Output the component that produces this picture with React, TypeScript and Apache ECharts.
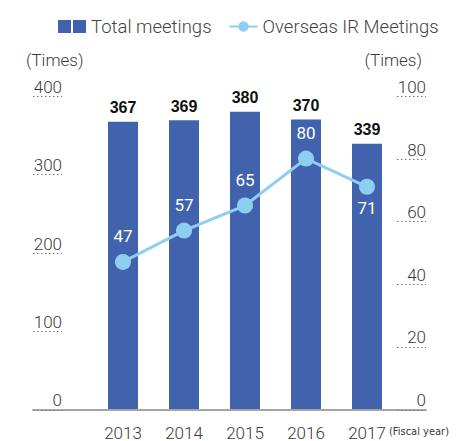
import React, { useEffect, useRef } from "react";
import * as echarts from "echarts";

const years = ["2013", "2014", "2015", "2016", "2017"];
const totalMeetings = [367, 369, 380, 370, 339];
const overseasMeetings = [47, 57, 65, 80, 71];
const leftTicks = { min: 0, max: 400, interval: 100 };
const rightTicks = { min: 0, max: 100, interval: 20 };

const BAR = "#4163ae";
const LINE = "#8ecef0";
const TXT = "#3a3a3a";
const FONT = "Roboto, 'Noto Sans', sans-serif";
const LIGHT = 300;

export default function App() {
  const ref = useRef<HTMLDivElement>(null);
  useEffect(() => {
    if (!ref.current) return;
    const chart = echarts.init(ref.current, undefined, { renderer: "svg" });
    const top = 96;
    const bottom = 31;
    const dotted = {
      show: true,
      lineStyle: { type: [1.5, 2.5] as any, color: "#777", width: 1 },
    };
    chart.setOption({
      animation: false,
      textStyle: { fontFamily: FONT },
      legend: {
        left: 53,
        top: 12,
        itemGap: 17,
        itemHeight: 13,
        textStyle: { fontSize: 18.5, color: "#444", fontFamily: FONT, fontWeight: LIGHT },
        data: [
          { name: "Total meetings", icon: "path://M0,0H13V13H0Z M15,0H28V13H15Z", itemStyle: { color: BAR } },
          { name: "Overseas IR Meetings" },
        ],
        itemWidth: 28,
      },
      title: [
        { text: "(Times)", left: 21, top: 46, textStyle: { fontSize: 17, fontWeight: LIGHT, color: TXT, fontFamily: FONT } },
        { text: "(Times)", right: 34, top: 46, textStyle: { fontSize: 17, fontWeight: LIGHT, color: TXT, fontFamily: FONT } },
      ],
      grid: [
        { left: 92.5, right: 63.5, top, bottom },
        { left: 33, right: 35, top, bottom },
        { left: 33, width: 29, top, bottom },
        { left: 397, width: 29, top, bottom },
      ],
      xAxis: [
        {
          type: "category",
          gridIndex: 0,
          data: years,
          axisLine: { show: false },
          axisTick: { show: false },
          axisLabel: { fontSize: 17, color: TXT, margin: 15, fontFamily: FONT, fontWeight: LIGHT },
        },
        {
          type: "value",
          gridIndex: 1,
          min: 0,
          max: 1,
          axisLine: { show: true, onZero: false, lineStyle: { color: "#888", width: 1.5 } },
          axisTick: { show: false },
          axisLabel: { show: false },
          splitLine: { show: false },
        },
        { type: "value", gridIndex: 2, min: 0, max: 1, show: false },
        { type: "value", gridIndex: 3, min: 0, max: 1, show: false },
      ],
      yAxis: [
        {
          type: "value",
          gridIndex: 0,
          position: "left",
          ...leftTicks,
          axisLine: { show: false },
          axisTick: { show: false },
          splitLine: { show: false },
          axisLabel: { fontSize: 17, color: TXT, margin: 30.5, verticalAlign: "bottom", lineHeight: 18, fontFamily: FONT, fontWeight: LIGHT },
        },
        {
          type: "value",
          gridIndex: 0,
          position: "right",
          ...rightTicks,
          axisLine: { show: false },
          axisTick: { show: false },
          splitLine: { show: false },
          axisLabel: { fontSize: 17, color: TXT, margin: 28.5, align: "right", verticalAlign: "bottom", lineHeight: 18, fontFamily: FONT, fontWeight: LIGHT },
        },
        { type: "value", gridIndex: 1, min: 0, max: 1, show: false },
        {
          type: "value",
          gridIndex: 2,
          ...leftTicks,
          axisLine: { show: false },
          axisTick: { show: false },
          axisLabel: { show: false },
          splitLine: dotted,
        },
        {
          type: "value",
          gridIndex: 3,
          ...rightTicks,
          axisLine: { show: false },
          axisTick: { show: false },
          axisLabel: { show: false },
          splitLine: dotted,
        },
      ],
      graphic: [
        {
          type: "text",
          left: 389,
          top: 426,
          z: 10,
          style: { text: "(Fiscal year)", fontSize: 11, fill: TXT, fontFamily: "'Liberation Sans Narrow', 'DejaVu Sans Condensed', sans-serif" },
        },
      ],
      series: [
        {
          name: "Total meetings",
          type: "bar",
          xAxisIndex: 0,
          yAxisIndex: 0,
          data: totalMeetings,
          barWidth: 30,
          itemStyle: { color: BAR },
          label: {
            show: true,
            position: "top",
            distance: 6,
            fontSize: 16,
            fontWeight: "bold",
            color: "#111",
            fontFamily: "'Liberation Sans', Arial, sans-serif",
          },
        },
        {
          name: "Overseas IR Meetings",
          type: "line",
          xAxisIndex: 0,
          yAxisIndex: 1,
          data: overseasMeetings.map((v, i) =>
            i === overseasMeetings.length - 1
              ? { value: v, label: { position: "bottom", distance: 5 } }
              : v
          ),
          symbol: "circle",
          symbolSize: 16,
          z: 5,
          lineStyle: { color: LINE, width: 3 },
          itemStyle: { color: LINE },
          label: {
            show: true,
            position: "top",
            distance: 9,
            fontSize: 17,
            color: "#fff",
            fontFamily: FONT,
          },
        },
      ],
    });
    return () => chart.dispose();
  }, []);
  return <div ref={ref} style={{ width: 461, height: 441, position: "absolute", left: 0, top: 0 }} />;
}
